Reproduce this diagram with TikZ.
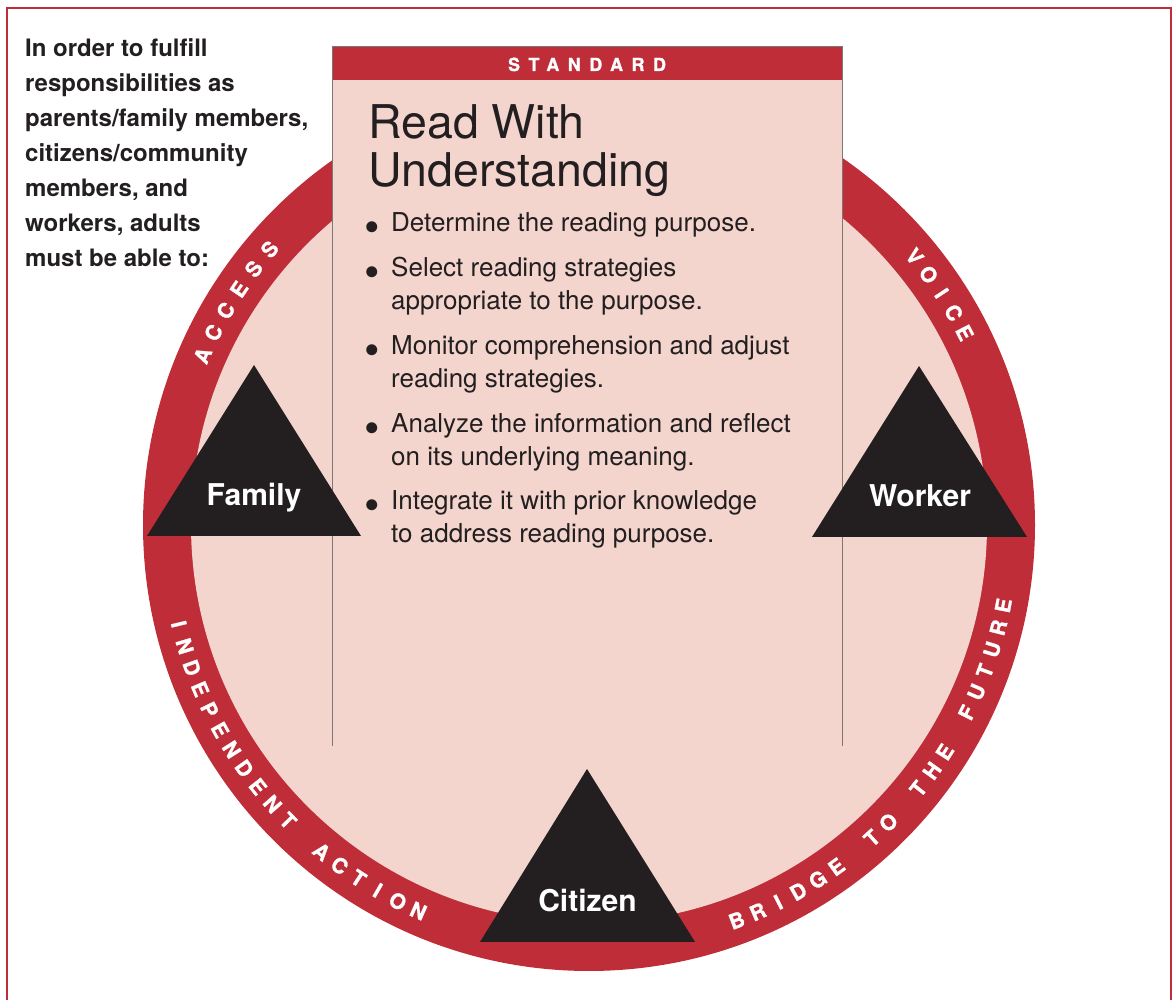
\documentclass[tikz,border=0pt]{standalone}
\usepackage{fontspec}
\usepackage{graphicx}
\setmainfont{TeX Gyre Heros}
\newfontfamily\ringfamily{TeX Gyre Heros}[BoldFeatures={FakeBold=1.2}]
\usetikzlibrary{calc}
\definecolor{ringred}{RGB}{191,45,56}
\definecolor{innerpink}{RGB}{243,213,205}
\definecolor{darkink}{RGB}{35,31,32}
\definecolor{boxgray}{RGB}{125,120,120}
\newcommand{\itemdot}{\smash{\raisebox{-10.5pt}{\scalebox{1.7}{\textbullet}}}}

\begin{document}
\begin{tikzpicture}[x=1pt, y=1pt,
    role/.style ={fill=darkink},
    rolelabel/.style ={anchor=base, inner sep=0pt, text=white, font=\fontsize{30}{30}\selectfont\bfseries},
    textblock/.style ={anchor=base west, inner sep=0pt, text=darkink},
    ringletter/.style ={inner sep=0pt, text=white, font=\ringfamily\fontsize{21}{21}\selectfont\bfseries}]
   \useasboundingbox (0,0) rectangle (1173,999);
   \draw[ringred, line width=1.3pt] (7,-10) rectangle (1171,991);
   \coordinate (O) at (589,474);
   \fill[ringred] (O) circle[radius=446];
   \fill[innerpink] (O) circle[radius=398];
   \fill[innerpink] (332,253) rectangle (842,953);
   \fill[ringred] (332,919) rectangle (842,953);
   \draw[boxgray, line width=0.8pt] (332,253) -- (332,953) -- (842,953) -- (842,253);
   \node[anchor=base, inner sep=0pt, text=white, font=\ringfamily\fontsize{18}{18}\selectfont\bfseries\addfontfeature{LetterSpace=47}] (standard) at (587,928) {STANDARD};
   \node[textblock] (intro) at (25,942) {\fontsize{24}{35}\selectfont\bfseries
     \begin{tabular}[t]{@{}l@{}}
       In order to fulfill\\ responsibilities as\\ parents/family members,\\
       citizens/community\\ members, and\\ workers, adults\\ must be able to:
     \end{tabular}};
   \node[textblock] (title) at (368,860) {\fontsize{46.5}{44}\selectfont
     \begin{tabular}[t]{@{}l@{}}Read With\\ Understanding\end{tabular}};
   \node[textblock] (purposes) at (364,767) {\fontsize{26}{33}\selectfont
     \begin{tabular}[t]{@{}p{27pt}@{}l@{}}
       \itemdot & Determine the reading purpose.\\[12pt]
       \itemdot & Select reading strategies\\ & appropriate to the purpose.\\[12pt]
       \itemdot & Monitor comprehension and adjust\\ & reading strategies.\\[12pt]
       \itemdot & Analyze the information and reflect\\ & on its underlying meaning.\\[11pt]
       \itemdot & Integrate it with prior knowledge\\ & to address reading purpose.
     \end{tabular}};
   \foreach \ch [count=\i, evaluate=\i as \ang using 156.3-(\i-1)*3.42] in {A,C,C,E,S,S}
     \node[ringletter, rotate=\ang-90] (access-\i) at ($(O)+(\ang:422)$) {\ch};
   \foreach \ch [count=\i, evaluate=\i as \ang using 39.5-(\i-1)*3.1] in {V,O,I,C,E}
     \node[ringletter, rotate=\ang-90] (voice-\i) at ($(O)+(\ang:422)$) {\ch};
   \foreach \ch [count=\i, evaluate=\i as \ang using 193.6+(\i-1)*3.09] in {I,N,D,E,P,E,N,D,E,N,T}
     \node[ringletter, rotate=\ang+90] (independent-\i) at ($(O)+(\ang:422)$) {\ch};
   \foreach \ch [count=\i, evaluate=\i as \ang using 230.7+(\i-1)*3.09] in {A,C,T,I,O,N}
     \node[ringletter, rotate=\ang+90] (action-\i) at ($(O)+(\ang:422)$) {\ch};
   \foreach \ch [count=\i, evaluate=\i as \ang using 290.5+(\i-1)*3.08] in {B,R,I,D,G,E}
     \node[ringletter, rotate=\ang+90] (bridge-\i) at ($(O)+(\ang:422)$) {\ch};
   \foreach \ch [count=\i, evaluate=\i as \ang using 312.1+(\i-1)*3.08] in {T,O}
     \node[ringletter, rotate=\ang+90] (to-\i) at ($(O)+(\ang:422)$) {\ch};
   \foreach \ch [count=\i, evaluate=\i as \ang using 321.3+(\i-1)*3.08] in {T,H,E}
     \node[ringletter, rotate=\ang+90] (the-\i) at ($(O)+(\ang:422)$) {\ch};
   \foreach \ch [count=\i, evaluate=\i as \ang using 333.6+(\i-1)*3.08] in {F,U,T,U,R,E}
     \node[ringletter, rotate=\ang+90] (future-\i) at ($(O)+(\ang:422)$) {\ch};
   \fill[role] (147,463) -- (254,634) -- (361,463) -- cycle;
   \fill[role] (812,462) -- (919,633) -- (1027,462) -- cycle;
   \fill[role] (480,57) -- (587,230) -- (695,57) -- cycle;
   \node[rolelabel] (family) at (254,493) {Family};
   \node[rolelabel] (worker) at (920,492) {Worker};
   \node[rolelabel] (citizen) at (587.5,87) {Citizen};
 \end{tikzpicture}
\end{document}
